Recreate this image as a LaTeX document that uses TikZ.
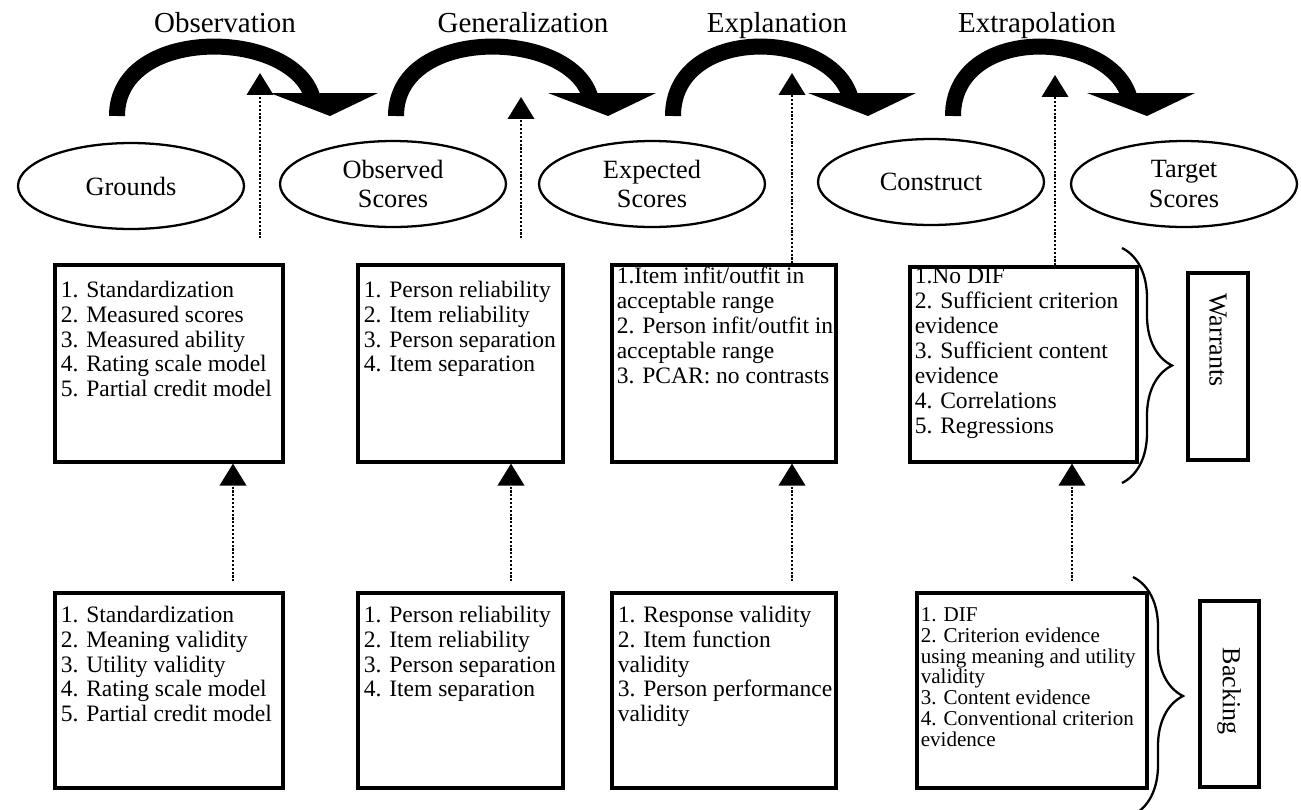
\documentclass[tikz,border=0pt]{standalone}
\usepackage{fontspec}
\setmainfont{Liberation Serif}
\usetikzlibrary{shapes.geometric,arrows.meta,positioning,fit,decorations.pathreplacing}

\begin{document}
\begin{tikzpicture}[x=0.02cm, y=-0.02cm,
    stage/.style={font=\fontsize{16.5}{19}\selectfont, anchor=base},
    claim/.style={ellipse, draw, line width=1.3pt, minimum width=4.52cm, minimum height=1.72cm, inner sep=0pt, align=center, font=\fontsize{15}{17}\selectfont},
    evbox/.style={rectangle, draw, line width=1.8pt, inner sep=0pt},
    evtext/.style={anchor=north west, inner sep=0pt, align=left, font=\fontsize{13.4}{14.2}\selectfont},
    tagbox/.style={rectangle, draw, line width=1.8pt, inner sep=0pt},
    tagtext/.style={rotate=-90, font=\fontsize{14.8}{17}\selectfont},
    warrow/.style={line width=1.5pt, dash pattern=on 1.2pt off 1pt, -{Triangle[width=15pt,length=12.5pt]}},
    leap/.style={line width=0.32cm},
    brc/.style={decorate, decoration={brace, amplitude=1cm}, line width=1.3pt}
]
    \useasboundingbox (0,0) rectangle (1301,809);

    % Stage titles
    \node[stage] (obs) at (225,32) {Observation};
    \node[stage] (gen) at (523,32) {Generalization};
    \node[stage] (expl) at (777,32) {Explanation};
    \node[stage] (extr) at (1037,32) {Extrapolation};

    % Heavy curved arrows
    \foreach \bx/\tx in {117/330, 396/608, 673/868, 953/1147} {
        \draw[leap] (\bx,116) .. controls (\bx,26) and (\tx-40,28) .. (\tx-18,96);
        \fill (\tx-60,93) -- (\tx+48,93) -- (\tx,116) -- cycle;
    }

    % Claims
    \node[claim] (grounds) at (131,186) {Grounds};
    \node[claim] (obsd) at (393,184) {Observed\\Scores};
    \node[claim] (expd) at (652,184) {Expected\\Scores};
    \node[claim] (cons) at (931,182) {Construct};
    \node[claim] (targ) at (1184,184) {Target\\Scores};

    % Warrant boxes
    \node[evbox, fit={(55,265) (283,462)}] (w1) {};
    \node[evtext] (w1t) at ([shift={(7,17)}]w1.north west) {
        1. Standardization \\
        2. Measured scores \\
        3. Measured ability \\
        4. Rating scale model \\
        5. Partial credit model
    };
    \node[evbox, fit={(358,265) (563,462)}] (w2) {};
    \node[evtext] (w2t) at ([shift={(7,17)}]w2.north west) {
        1. Person reliability \\
        2. Item reliability \\
        3. Person separation \\
        4. Item separation
    };
    \node[evbox, fit={(612,265) (836,462)}] (w3) {};
    \node[evtext] (w3t) at ([shift={(6,3)}]w3.north west) {
        1.Item infit/outfit in \\
        acceptable range \\
        2. Person infit/outfit in \\
        acceptable range \\
        3. PCAR: no contrasts
    };
    \node[evbox, fit={(910,267) (1137,462)}] (w4) {};
    \node[evtext] (w4t) at ([shift={(6,2)}]w4.north west) {
        1.No DIF \\
        2. Sufficient criterion \\
        evidence \\
        3. Sufficient content \\
        evidence \\
        4. Correlations \\
        5. Regressions
    };

    % Backing boxes
    \node[evbox, fit={(55,593) (283,788)}] (k1) {};
    \node[evtext] (k1t) at ([shift={(7,14)}]k1.north west) {
        1. Standardization \\
        2. Meaning validity \\
        3. Utility validity \\
        4. Rating scale model \\
        5. Partial credit model
    };
    \node[evbox, fit={(358,593) (563,788)}] (k2) {};
    \node[evtext] (k2t) at ([shift={(7,14)}]k2.north west) {
        1. Person reliability \\
        2. Item reliability \\
        3. Person separation \\
        4. Item separation
    };
    \node[evbox, fit={(612,593) (836,788)}] (k3) {};
    \node[evtext] (k3t) at ([shift={(7,14)}]k3.north west) {
        1. Response validity \\
        2. Item function \\
        validity \\
        3. Person performance \\
        validity
    };
    \node[evbox, fit={(917,593) (1147,788)}] (k4) {};
    \node[evtext, font=\fontsize{12}{11.8}\selectfont] (k4t) at ([shift={(5,16)}]k4.north west) {
        1. DIF \\
        2. Criterion evidence \\
        using meaning and utility \\
        validity \\
        3. Content evidence \\
        4. Conventional criterion \\
        evidence
    };

    % Warrants / Backing tags
    \node[tagbox, fit={(1188,273) (1248,460)}] (wtag) {};
    \node[tagtext] (wtxt) at (1218,340) {Warrants};
    \node[tagbox, fit={(1200,601) (1259,787)}] (btag) {};
    \node[tagtext] (btxt) at (1229,691) {Backing};
    \draw[brc] (1122,248) -- (1122,483);
    \draw[brc] (1133,577) -- (1133,815);

    % Dotted arrows: warrants up to the stage arrows
    \coordinate (u1) at (260,73);
    \coordinate (u2) at (521,97);
    \coordinate (u3) at (792,73);
    \coordinate (u4) at (1055,75);
    \draw[warrow, shorten <=0.5cm] (w1.north -| u1) -- (u1);
    \draw[warrow, shorten <=0.5cm] (w2.north -| u2) -- (u2);
    \draw[warrow] (w3.north -| u3) -- (u3);
    \draw[warrow] (w4.north -| u4) -- (u4);

    % Dotted arrows: backing up to warrants
    \draw[warrow, shorten <=0.2cm] (k1.north -| 233,0) -- (w1.south -| 233,0);
    \draw[warrow, shorten <=0.2cm] (k2.north -| 511,0) -- (w2.south -| 511,0);
    \draw[warrow, shorten <=0.2cm] (k3.north -| 792,0) -- (w3.south -| 792,0);
    \draw[warrow, shorten <=0.2cm] (k4.north -| 1072,0) -- (w4.south -| 1072,0);
\end{tikzpicture}
\end{document}
